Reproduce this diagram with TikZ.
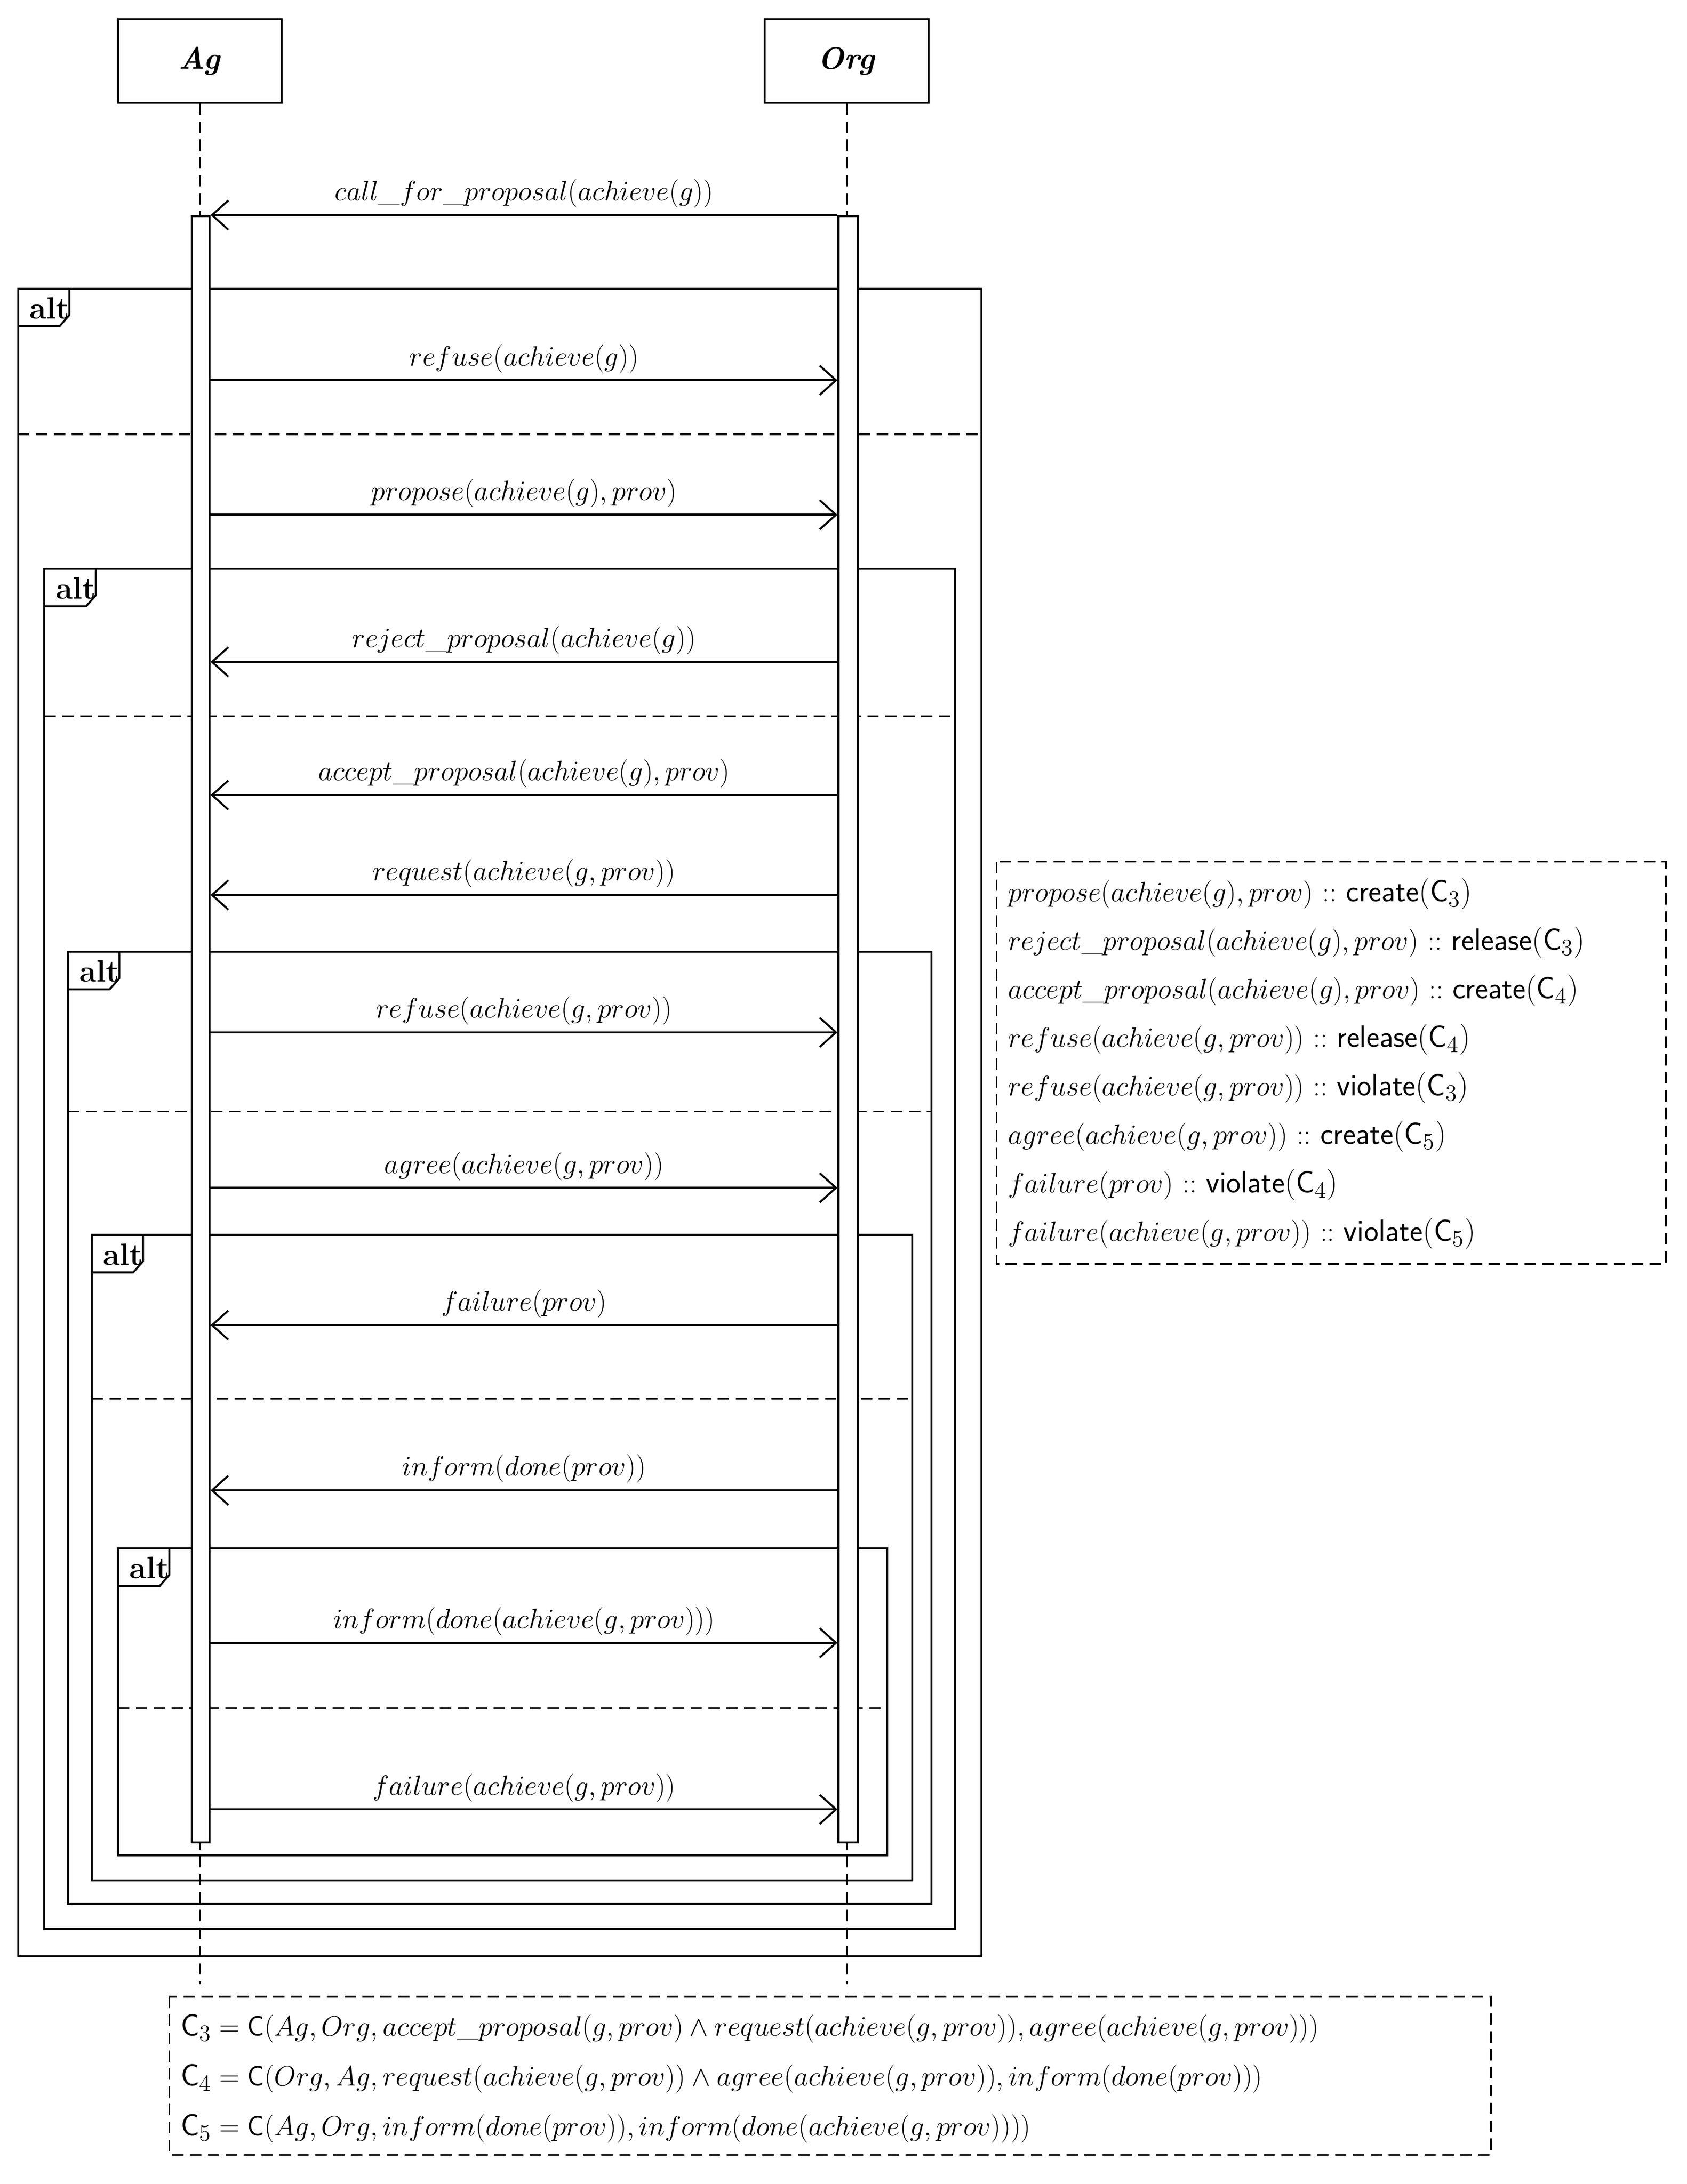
\documentclass[tikz,border=0pt]{standalone}
\usepackage{amsmath}
\usetikzlibrary{arrows.meta}
\begin{document}
\begin{tikzpicture}[x=0.03cm,y=-0.03cm,
  font=\fontsize{19}{23}\selectfont,
  lbox/.style={draw,line width=1.2pt,minimum width=118*0.03cm,minimum height=60*0.03cm,inner sep=0pt},
  life/.style={dash pattern=on 7pt off 4pt,line width=1pt},
  bar/.style={draw,line width=1.2pt,fill=white},
  msg/.style={line width=1.2pt,-{Straight Barb[length=10pt,width=18pt]}},
  frame/.style={draw,line width=1.2pt},
  divider/.style={dash pattern=on 7pt off 4pt,line width=1pt},
  mlab/.style={above=2pt,inner sep=2pt},
  note/.style={draw,dash pattern=on 7pt off 4pt,line width=1pt}]
\useasboundingbox (0,0) rectangle (1215,1574);
% lifeline heads
\node[lbox] (ag) at (144,44) {\textbf{\textit{Ag}}};
\node[lbox] (org) at (610,44) {\textbf{\textit{Org}}};
\coordinate (agend) at (144,1430);
\coordinate (orgend) at (610,1430);
\draw[life] (ag.south) -- (agend);
\draw[life] (org.south) -- (orgend);
% frames
\newcommand{\altframe}[6]{% name,x1,y1,x2,y2,ydiv
  \draw[frame] (#2,#3) rectangle (#4,#5);
  \draw[divider] (#2,#6) -- (#4,#6);
  \draw[frame] (#2,#3+27) -- (#2+30,#3+27) -- (#2+37,#3+19) -- (#2+37,#3);
  \node[anchor=west,inner sep=0pt] (#1) at (#2+8,#3+14) {\textbf{alt}};}
\altframe{alta}{13}{208}{707}{1410}{313}
\altframe{altb}{32}{410}{688}{1390}{516}
\altframe{altc}{49}{686}{671}{1372}{801}
\altframe{altd}{66}{890}{657}{1355}{1008}
\altframe{alte}{85}{1116}{639}{1337}{1231}
% activation bars
\node[bar,minimum width=13*0.03cm,minimum height=1172*0.03cm,inner sep=0pt,anchor=north] (agbar) at (144.5,155) {};
\node[bar,minimum width=14*0.03cm,minimum height=1172*0.03cm,inner sep=0pt,anchor=north] (orgbar) at (611,155) {};
% messages
\newcommand{\msgAO}[3]{% y, label, name
  \coordinate (#3s) at (agbar.east |- 0,#1);
  \coordinate (#3t) at (orgbar.west |- 0,#1);
  \draw[msg] (#3s) -- node[mlab] {#2} (#3t);}
\newcommand{\msgOA}[3]{%
  \coordinate (#3s) at (orgbar.west |- 0,#1);
  \coordinate (#3t) at (agbar.east |- 0,#1);
  \draw[msg] (#3s) -- node[mlab] {#2} (#3t);}
\msgOA{155}{$call\_for\_proposal(achieve(g))$}{m1}
\msgAO{274}{$refuse(achieve(g))$}{m2}
\msgAO{371}{$propose(achieve(g),prov)$}{m3}
\msgOA{477}{$reject\_proposal(achieve(g))$}{m4}
\msgOA{573}{$accept\_proposal(achieve(g),prov)$}{m5}
\msgOA{645}{$request(achieve(g,prov))$}{m6}
\msgAO{744}{$refuse(achieve(g,prov))$}{m7}
\msgAO{856}{$agree(achieve(g,prov))$}{m8}
\msgOA{955}{$failure(prov)$}{m9}
\msgOA{1074}{$inform(done(prov))$}{m10}
\msgAO{1184}{$inform(done(achieve(g,prov)))$}{m11}
\msgAO{1304}{$failure(achieve(g,prov))$}{m12}
% notes
\draw[note] (718,621) rectangle (1200,911);
\begin{scope}[every node/.style={anchor=west,inner sep=0pt}]
\node (n1) at (726,644) {$propose(achieve(g),prov)$ $\mathbin{::}$ \textsf{create}(\textsf{C}$_3$)};
\node (n2) at (726,679) {$reject\_proposal(achieve(g),prov)$ $\mathbin{::}$ \textsf{release}(\textsf{C}$_3$)};
\node (n3) at (726,714) {$accept\_proposal(achieve(g),prov)$ $\mathbin{::}$ \textsf{create}(\textsf{C}$_4$)};
\node (n4) at (726,749) {$refuse(achieve(g,prov))$ $\mathbin{::}$ \textsf{release}(\textsf{C}$_4$)};
\node (n5) at (726,784) {$refuse(achieve(g,prov))$ $\mathbin{::}$ \textsf{violate}(\textsf{C}$_3$)};
\node (n6) at (726,819) {$agree(achieve(g,prov))$ $\mathbin{::}$ \textsf{create}(\textsf{C}$_5$)};
\node (n7) at (726,854) {$failure(prov)$ $\mathbin{::}$ \textsf{violate}(\textsf{C}$_4$)};
\node (n8) at (726,889) {$failure(achieve(g,prov))$ $\mathbin{::}$ \textsf{violate}(\textsf{C}$_5$)};
\end{scope}
\draw[note] (122,1439) rectangle (1074,1553);
\begin{scope}[every node/.style={anchor=west,inner sep=0pt}]
\node (c3) at (130,1462) {\textsf{C}$_3=\mathsf{C}(Ag,Org,accept\_proposal(g,prov)\wedge request(achieve(g,prov)),agree(achieve(g,prov)))$};
\node (c4) at (130,1498) {\textsf{C}$_4=\mathsf{C}(Org,Ag,request(achieve(g,prov))\wedge agree(achieve(g,prov)),inform(done(prov)))$};
\node (c5) at (130,1534) {\textsf{C}$_5=\mathsf{C}(Ag,Org,inform(done(prov)),inform(done(achieve(g,prov))))$};
\end{scope}
\end{tikzpicture}
\end{document}
